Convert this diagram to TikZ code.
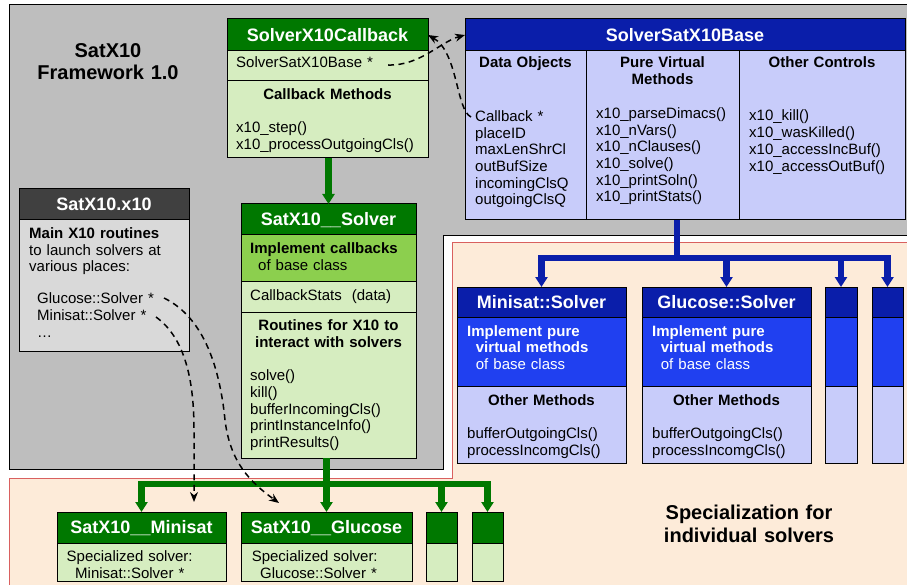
\documentclass[tikz,border=0pt]{standalone}
\usepackage{fontspec}
\setmainfont{Liberation Sans}
\usepackage{tikz}
\usetikzlibrary{calc,arrows.meta}
\definecolor{gdark}{HTML}{007800}
\definecolor{gmid}{HTML}{8CCF4E}
\definecolor{glight}{HTML}{D6EDC0}
\definecolor{bdark}{HTML}{0A1EAA}
\definecolor{bmid}{HTML}{2040F0}
\definecolor{blight}{HTML}{C8CCFA}
\definecolor{kdark}{HTML}{404040}
\definecolor{klight}{HTML}{D9D9D9}
\definecolor{frame}{HTML}{BEBEBE}
\definecolor{peach}{HTML}{FDEBD9}
\definecolor{redline}{HTML}{D9605F}
\tikzset{
  part/.style={draw=black, line width=1pt, inner sep=0pt, outer sep=0pt, anchor=north west},
  hdr/.style={part, text=white, font=\fontsize{18}{20}\selectfont\bfseries, text height=12.9pt, text depth=0pt},
  txt/.style={inner sep=0pt, anchor=base west, text width=200pt, align=left, font=\fontsize{15}{16.7}\selectfont},
  ttl/.style={inner sep=0pt, anchor=base, text width=170pt, align=center, font=\fontsize{15}{16.7}\selectfont\bfseries},
  big/.style={inner sep=0pt, anchor=base, text width=220pt, align=center, font=\fontsize{20}{22.7}\selectfont\bfseries},
  gline/.style={draw=gdark, line width=6.5pt},
  garr/.style={gline, -{Triangle[width=12pt,length=10pt]}},
  bline/.style={draw=bdark, line width=6.5pt},
  barr/.style={bline, -{Triangle[width=12pt,length=10pt]}},
  ptr/.style={line width=1.5pt, dash pattern=on 6pt off 4.5pt, -{Stealth[width=8pt,length=10pt]}}
}
\begin{document}
\begin{tikzpicture}[x=1pt,y=-1pt]
\useasboundingbox (0,0) rectangle (907,585);

% framework and specialization areas
\fill[white] (0,0) rectangle (907,585);
\filldraw[fill=frame, draw=black, line width=1pt]
  (9,5) -- (912,5) -- (912,236) -- (443,236) -- (443,469) -- (9,469) -- cycle;
\filldraw[fill=peach, draw=redline, line width=1pt]
  (452,243) -- (912,243) -- (912,590) -- (9,590) -- (9,478) -- (452,478) -- cycle;

\node[big] (fwtitle) at (108,57.3) {SatX10\\Framework 1.0};
\node[big] (sptitle) at (749,519.5) {Specialization for\\individual solvers};

% SolverX10Callback
\node[hdr, fill=gdark, minimum width=201pt, minimum height=32pt] (cbhead) at (227,19) {SolverX10Callback};
\node[part, fill=glight, minimum width=201pt, minimum height=30pt] (cbdata) at (cbhead.south west) {};
\node[part, fill=glight, minimum width=201pt, minimum height=77pt] (cbmeth) at (cbdata.south west) {};
\node[txt] (cbbase) at (236,68) {SolverSatX10Base *};
\node[ttl] (cbmtitle) at (327.5,100) {Callback Methods};
\node[txt] (cblist) at (236,133) {x10\_step()\\x10\_processOutgoingCls()};

% SolverSatX10Base
\node[hdr, fill=bdark, minimum width=440pt, minimum height=32pt] (bshead) at (465,19) {SolverSatX10Base};
\node[part, fill=blight, minimum width=121pt, minimum height=169pt] (bsdata) at (bshead.south west) {};
\node[part, fill=blight, minimum width=153pt, minimum height=169pt] (bspure) at (bsdata.north east) {};
\node[part, fill=blight, minimum width=166pt, minimum height=169pt] (bsctrl) at (bspure.north east) {};
\node[ttl] (bsdtitle) at (525.5,68) {Data Objects};
\node[ttl] (bsptitle) at (662.5,68) {Pure Virtual\\Methods};
\node[ttl] (bsctitle) at (822,68) {Other Controls};
\node[txt] (bsdlist) at (475,121.5) {Callback *\\placeID\\maxLenShrCl\\outBufSize\\incomingClsQ\\outgoingClsQ};
\node[txt] (bsplist) at (596,118.5) {x10\_parseDimacs()\\x10\_nVars()\\x10\_nClauses()\\x10\_solve()\\x10\_printSoln()\\x10\_printStats()};
\node[txt] (bsclist) at (749,121) {x10\_kill()\\x10\_wasKilled()\\x10\_accessIncBuf()\\x10\_accessOutBuf()};

% SatX10.x10
\node[hdr, fill=kdark, minimum width=170pt, minimum height=31pt] (xhead) at (19,189) {SatX10.x10};
\node[part, fill=klight, minimum width=170pt, minimum height=131pt] (xbody) at (xhead.south west) {};
\node[txt] (xintro) at (29,238.3) {\textbf{Main X10 routines}\\to launch solvers at\\various places:};
\node[txt] (xlist) at (37,303.7) {Glucose::Solver *\\Minisat::Solver *\\\ldots};

% SatX10__Solver
\node[hdr, fill=gdark, minimum width=175pt, minimum height=31pt] (svhead) at (241,204) {SatX10\_\_Solver};
\node[part, fill=gmid, minimum width=175pt, minimum height=46pt] (svimpl) at (svhead.south west) {};
\node[part, fill=glight, minimum width=175pt, minimum height=31pt] (svstat) at (svimpl.south west) {};
\node[part, fill=glight, minimum width=175pt, minimum height=146pt] (svrout) at (svstat.south west) {};
\node[txt] (svimpltxt) at (250,253.3) {\textbf{Implement callbacks}\\\hspace*{8pt}of base class};
\node[txt] (svstattxt) at (250,300) {CallbackStats\ \ (data)};
\node[ttl] (svrtitle) at (328.5,330.7) {Routines for X10 to\\interact with solvers};
\node[txt] (svlist) at (250,380.7) {solve()\\kill()\\bufferIncomingCls()\\printInstanceInfo()\\printResults()};

% Minisat::Solver
\node[hdr, fill=bdark, minimum width=169pt, minimum height=30pt] (mshead) at (457,287) {Minisat::Solver};
\node[part, fill=bmid, minimum width=169pt, minimum height=69pt] (msimpl) at (mshead.south west) {};
\node[part, fill=blight, minimum width=169pt, minimum height=77pt] (msother) at (msimpl.south west) {};
\node[txt, text=white] (msimpltxt) at (467,336) {\textbf{Implement pure}\\\hspace*{8.7pt}\textbf{virtual methods}\\\hspace*{8.7pt}of base class};
\node[ttl] (msotitle) at (541.5,405) {Other Methods};
\node[txt] (mslist) at (467,438.3) {bufferOutgoingCls()\\processIncomgCls()};

% Glucose::Solver
\node[hdr, fill=bdark, minimum width=169pt, minimum height=30pt] (gshead) at (642,287) {Glucose::Solver};
\node[part, fill=bmid, minimum width=169pt, minimum height=69pt] (gsimpl) at (gshead.south west) {};
\node[part, fill=blight, minimum width=169pt, minimum height=77pt] (gsother) at (gsimpl.south west) {};
\node[txt, text=white] (gsimpltxt) at (652,336) {\textbf{Implement pure}\\\hspace*{8.7pt}\textbf{virtual methods}\\\hspace*{8.7pt}of base class};
\node[ttl] (gsotitle) at (726.5,405) {Other Methods};
\node[txt] (gslist) at (652,438.3) {bufferOutgoingCls()\\processIncomgCls()};

% further solvers (blue)
\node[part, fill=bdark, minimum width=32pt, minimum height=30pt] (sbahead) at (825,287) {};
\node[part, fill=bmid, minimum width=32pt, minimum height=69pt] (sbaimpl) at (sbahead.south west) {};
\node[part, fill=blight, minimum width=32pt, minimum height=77pt] (sbaother) at (sbaimpl.south west) {};
\node[part, fill=bdark, minimum width=31pt, minimum height=30pt] (sbbhead) at (872,287) {};
\node[part, fill=bmid, minimum width=31pt, minimum height=69pt] (sbbimpl) at (sbbhead.south west) {};
\node[part, fill=blight, minimum width=31pt, minimum height=77pt] (sbbother) at (sbbimpl.south west) {};

% SatX10__Minisat, SatX10__Glucose
\node[hdr, fill=gdark, minimum width=169pt, minimum height=31pt] (smhead) at (57,512) {SatX10\_\_Minisat};
\node[part, fill=glight, minimum width=169pt, minimum height=38pt] (smbody) at (smhead.south west) {};
\node[txt] (smtxt) at (66.5,561.7) {Specialized solver:\\\hspace*{8.5pt}Minisat::Solver *};
\node[hdr, fill=gdark, minimum width=171pt, minimum height=31pt] (sghead) at (241,512) {SatX10\_\_Glucose};
\node[part, fill=glight, minimum width=171pt, minimum height=38pt] (sgbody) at (sghead.south west) {};
\node[txt] (sgtxt) at (251.6,561.7) {Specialized solver:\\\hspace*{8.4pt}Glucose::Solver *};

% further solvers (green)
\node[part, fill=gdark, minimum width=31pt, minimum height=31pt] (sgahead) at (426,512) {};
\node[part, fill=glight, minimum width=31pt, minimum height=38pt] (sgabody) at (sgahead.south west) {};
\node[part, fill=gdark, minimum width=31pt, minimum height=31pt] (sgbhead) at (472,512) {};
\node[part, fill=glight, minimum width=31pt, minimum height=38pt] (sgbbody) at (sgbhead.south west) {};

% inheritance arrows
\draw[garr] (cbmeth.south -| svhead.north) -- (svhead.north);
\coordinate (gbus) at ($(sghead.north)+(0,-28)$);
\draw[gline] (svrout.south -| gbus) -- (gbus);
\draw[garr] (gbus) -| (smhead.north);
\draw[garr] (gbus) -- (sghead.north);
\draw[garr] (gbus) -| (sgahead.north);
\draw[garr] (gbus) -| (sgbhead.north);

\coordinate (bbus) at (677,258);
\draw[bline] (bspure.south -| bbus) -- (bbus);
\draw[barr] (bbus) -| (mshead.north);
\draw[barr] (bbus) -| (gshead.north);
\draw[barr] (bbus) -| (sbahead.north);
\draw[barr] (bbus) -| (sbbhead.north);

% pointers
\coordinate (cbkptr) at (471,117);
\coordinate (sxbptr) at (388,65);
\draw[ptr] (cbkptr) .. controls (456,110) and (458,52) .. (cbhead.east);
\draw[ptr] (sxbptr) .. controls (420,66) and (440,42) .. (bshead.west);
\coordinate (glptr) at (164,298);
\coordinate (gltip) at (279,503);
\draw[ptr] (glptr) .. controls (205,318) and (220,370) .. (225,420) .. controls (230,462) and (250,482) .. (gltip);
\coordinate (msptr) at (156,317);
\coordinate (mstip) at (194,502);
\draw[ptr] (msptr) .. controls (185,338) and (194,380) .. (194,430) -- (mstip);
\end{tikzpicture}
\end{document}
